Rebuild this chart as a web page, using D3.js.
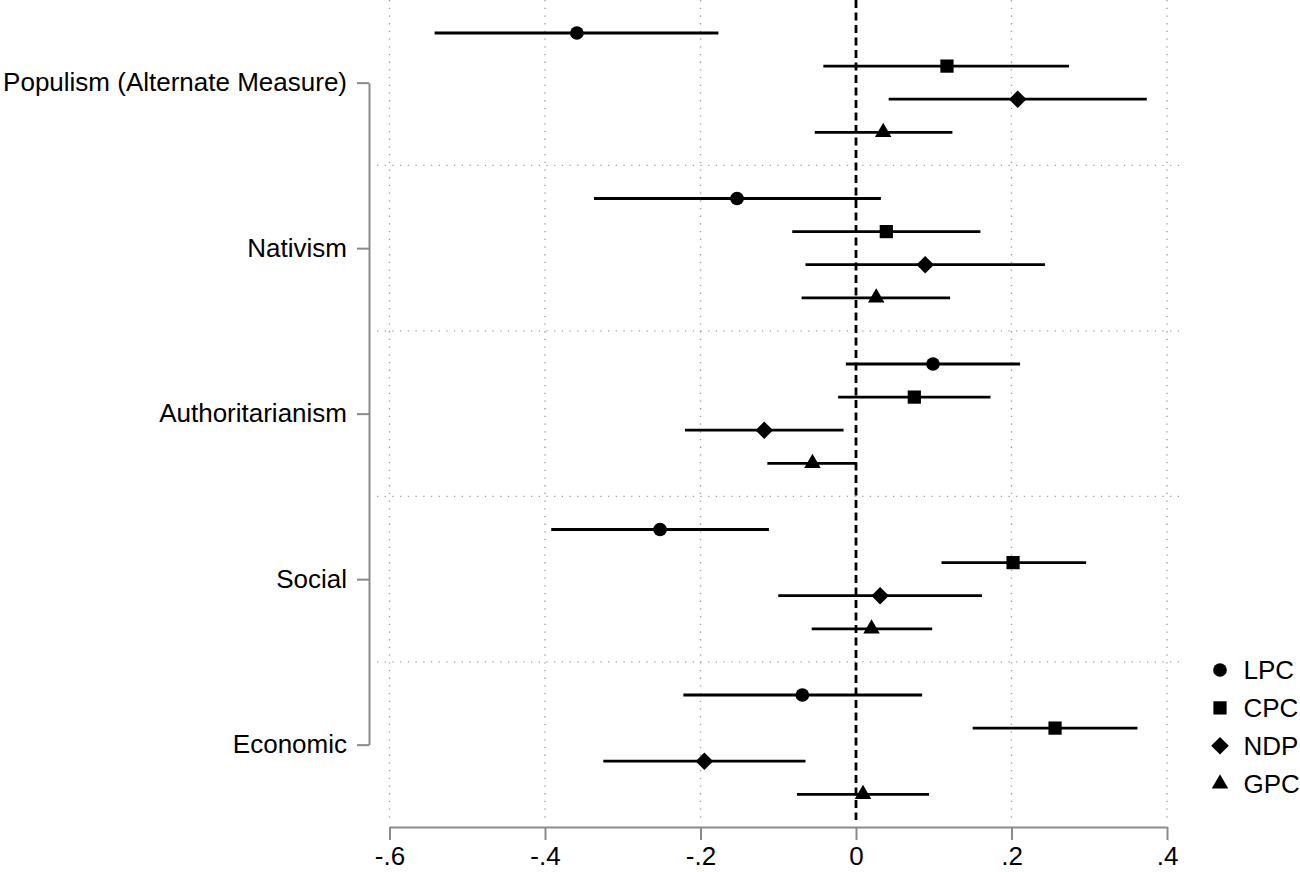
<!DOCTYPE html>
<html>
<head>
<meta charset="utf-8">
<script src="https://cdn.jsdelivr.net/npm/d3@7"></script>
<style>
  body { margin: 0; background: #fff; }
  svg { display: block; font-family: "Liberation Sans", Arial, sans-serif; }
</style>
</head>
<body>
<div id="chart"></div>
<script>
var categories = ["Populism (Alternate Measure)", "Nativism", "Authoritarianism", "Social", "Economic"];
var parties = ["LPC", "CPC", "NDP", "GPC"];

// point estimates, one row per category, columns in party order
var estimates = [
    [-0.359, 0.117, 0.208, 0.035],
    [-0.153, 0.039, 0.089, 0.026],
    [0.099, 0.075, -0.118, -0.056],
    [-0.252, 0.202, 0.031, 0.020],
    [-0.069, 0.256, -0.195, 0.009]
];
var lowerCI = [
    [-0.542, -0.042, 0.042, -0.053],
    [-0.337, -0.082, -0.065, -0.070],
    [-0.013, -0.023, -0.220, -0.114],
    [-0.392, 0.110, -0.100, -0.057],
    [-0.222, 0.150, -0.325, -0.076]
];
var upperCI = [
    [-0.177, 0.274, 0.374, 0.124],
    [0.032, 0.160, 0.243, 0.121],
    [0.211, 0.173, -0.016, 0.001],
    [-0.112, 0.296, 0.162, 0.098],
    [0.085, 0.362, -0.065, 0.094]
];
var xTicks = [-0.6, -0.4, -0.2, 0, 0.2, 0.4];
var xTickLabels = ["-.6", "-.4", "-.2", "0", ".2", ".4"];

var width = 1300, height = 872;

var svg = d3.select("#chart")
    .append("svg")
    .attr("width", width)
    .attr("height", height);

var x = d3.scaleLinear().domain([-0.6, 0.4]).range([389.5, 1167]);
// each category takes 5 row slots: 4 parties and a gap
var row = d3.scaleLinear().domain([0, 23]).range([33, 794.3]);
var yCat = d3.scalePoint().domain(categories).range([row(1.5), row(21.5)]);

var markers = {
    LPC: { type: d3.symbolCircle, size: 148, rotate: 0 },
    CPC: { type: d3.symbolSquare, size: 175, rotate: 0 },
    NDP: { type: d3.symbolSquare, size: 155, rotate: 45 },
    GPC: { type: d3.symbolTriangle, size: 118, rotate: 0 }
};

var points = [];
categories.forEach(function(c, i) {
    parties.forEach(function(p, j) {
        points.push({
            party: p,
            r: i * 5 + j,
            est: estimates[i][j],
            lo: lowerCI[i][j],
            hi: upperCI[i][j]
        });
    });
});

// grid
var plotTop = 0, plotBottom = 820;
svg.append("g").selectAll("line")
    .data(xTicks.filter(function(d) { return d !== 0; }))
    .enter().append("line")
    .attr("x1", function(d) { return x(d); })
    .attr("x2", function(d) { return x(d); })
    .attr("y1", plotTop)
    .attr("y2", plotBottom)
    .style("stroke", "#a0a0a0")
    .style("stroke-width", 1.4)
    .style("stroke-dasharray", "1.3,6.4");

svg.append("g").selectAll("line")
    .data([4, 9, 14, 19])
    .enter().append("line")
    .attr("x1", 377)
    .attr("x2", 1184)
    .attr("y1", function(d) { return row(d); })
    .attr("y2", function(d) { return row(d); })
    .style("stroke", "#a0a0a0")
    .style("stroke-width", 1.4)
    .style("stroke-dasharray", "1.3,6.4");

// zero reference
svg.append("line")
    .attr("x1", x(0)).attr("x2", x(0))
    .attr("y1", plotTop).attr("y2", plotBottom)
    .style("stroke", "#000")
    .style("stroke-width", 2.8)
    .style("stroke-dasharray", "8,4.5");

// confidence intervals
svg.append("g").selectAll("line")
    .data(points)
    .enter().append("line")
    .attr("x1", function(d) { return x(d.lo); })
    .attr("x2", function(d) { return x(d.hi); })
    .attr("y1", function(d) { return row(d.r); })
    .attr("y2", function(d) { return row(d.r); })
    .style("stroke", "#000")
    .style("stroke-width", 2.8);

svg.append("g").selectAll("path")
    .data(points)
    .enter().append("path")
    .attr("d", function(d) { var m = markers[d.party]; return d3.symbol(m.type, m.size)(); })
    .attr("transform", function(d) {
        return "translate(" + x(d.est) + "," + row(d.r) + ") rotate(" + markers[d.party].rotate + ")";
    })
    .style("fill", "#000");

// axes
var yAxis = svg.append("g")
    .attr("transform", "translate(369,0)")
    .call(d3.axisLeft(yCat).tickSize(12).tickSizeOuter(0).tickPadding(10));

var xAxis = svg.append("g")
    .attr("transform", "translate(0,827)")
    .call(d3.axisBottom(x).tickValues(xTicks)
        .tickFormat(function(d, i) { return xTickLabels[i]; })
        .tickSize(13).tickSizeOuter(0).tickPadding(7));

[yAxis, xAxis].forEach(function(a) {
    a.select(".domain").style("stroke", "#8a8a8a").style("stroke-width", 2);
    a.selectAll(".tick line").style("stroke", "#8a8a8a").style("stroke-width", 2);
    a.selectAll("text")
        .style("font-family", "'Liberation Sans', Arial, sans-serif")
        .style("font-size", "26px")
        .style("fill", "#000");
});

// legend
var legend = svg.append("g").selectAll("g")
    .data(parties)
    .enter().append("g")
    .attr("transform", function(d, i) { return "translate(1220," + (670 + i * 37.9) + ")"; });

legend.append("path")
    .attr("d", function(d) { var m = markers[d]; return d3.symbol(m.type, m.size)(); })
    .attr("transform", function(d) { return "rotate(" + markers[d].rotate + ")"; })
    .style("fill", "#000");

legend.append("text")
    .attr("x", 23.5)
    .attr("dy", "0.36em")
    .style("font-size", "26px")
    .style("fill", "#000")
    .text(function(d) { return d; });
</script>
</body>
</html>
